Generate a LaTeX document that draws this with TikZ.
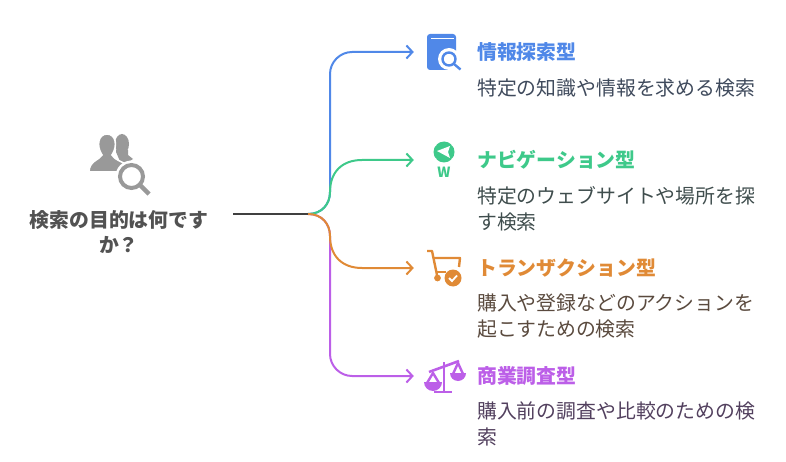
\documentclass[tikz,border=0pt]{standalone}
\usepackage{fontspec}
\setmainfont{Noto Sans CJK JP}
\usetikzlibrary{arrows.meta}
\definecolor{infoblue}{HTML}{5088E8}
\definecolor{navgreen}{HTML}{3EC98A}
\definecolor{buyorange}{HTML}{E08A36}
\definecolor{compurple}{HTML}{BC5FE8}
\definecolor{rootgray}{HTML}{999999}
\definecolor{infotext}{HTML}{3F4A5C}
\definecolor{navtext}{HTML}{3F4D4D}
\definecolor{buytext}{HTML}{5A4A3E}
\definecolor{comptext}{HTML}{52405E}
\begin{document}
\begin{tikzpicture}
[x=1pt, y=-1pt,
% STYLES
every node/.style={inner sep=0pt, font=\fontsize{17.6}{25.5}\selectfont},
% The head style is used to draw the type names
head/.style={anchor=west, font=\fontsize{19.85}{26}\selectfont\bfseries},
% The note style is used to draw the descriptions
note/.style={anchor=north west, align=left, font=\fontsize{19.85}{26}\selectfont},
branch/.style={line width=2pt, -{Straight Barb[length=6pt,width=13pt,line width=2pt]}},
icon/.style={minimum size=4pt}]

\useasboundingbox (0,0) rectangle (786,462);

% Draw root
\node [font=\fontsize{19.85}{25.5}\selectfont\bfseries, text=black!68, align=center] (ask) at (119,232) {検索の目的は何です\\か？};
\coordinate (hub) at (308,214);
\coordinate (start) at (233,214);

% Draw targets
\node [icon] (info) at (416,52) {};
\node [icon] (nav) at (416,160) {};
\node [icon] (buy) at (416,268) {};
\node [icon] (comp) at (416,376) {};

% Draw texts
\node [head, text=infoblue] (infohead) at (477,52) {情報探索型};
\node [note, text=infotext] (infonote) at (477,78.5) {特定の知識や情報を求める検索};
\node [head, text=navgreen] (navhead) at (477,160) {ナビゲーション型};
\node [note, text=navtext] (navnote) at (477,186) {特定のウェブサイトや場所を探\\す検索};
\node [head, text=buyorange] (buyhead) at (477,268) {トランザクション型};
\node [note, text=buytext] (buynote) at (477,294) {購入や登録などのアクションを\\起こすための検索};
\node [head, text=compurple] (comphead) at (477,376) {商業調査型};
\node [note, text=comptext] (compnote) at (477,402) {購入前の調査や比較のための検\\索};

% Draw connectors
\draw [branch, infoblue] (hub) .. controls (322,214) and (330,204) .. (330,192) -- (330,74) .. controls (330,62) and (340,52) .. (352,52) -- (info.west);
\draw [branch, compurple] (hub) .. controls (322,214) and (330,224) .. (330,236) -- (330,354) .. controls (330,366) and (340,376) .. (352,376) -- (comp.west);
\draw [branch, navgreen] (hub) .. controls (322,214) and (330,204) .. (330,192) .. controls (330,172) and (342,160) .. (362,160) -- (nav.west);
\draw [branch, buyorange] (hub) .. controls (322,214) and (330,224) .. (330,236) .. controls (330,256) and (342,268) .. (362,268) -- (buy.west);
\draw [line width=2pt, black!75] (start) -- (hub);

% Root icon
\fill [rootgray] (122,144) ellipse (7 and 10);
\fill [rootgray] (116,150) -- (128,150) -- (128,155) -- (133,159) -- (122,166) -- (116,152) -- cycle;
\filldraw [rootgray, draw=white, line width=1.6pt] (89,172) .. controls (89,161) and (99,160) .. (102,155) .. controls (96,146) and (98,134) .. (107,134) .. controls (116,134) and (118,146) .. (112,155) .. controls (115,160) and (121,161) .. (127,165) -- (120,172) -- cycle;
\fill [white] (131.5,176.5) circle (16);
\draw [rootgray, line width=4pt] (131.5,176.5) circle (11.5);
\draw [rootgray, line width=4.4pt] (140,185) -- (149,194);

% Book icon
\fill [infoblue, rounded corners=3pt] (427,34) rectangle (456,70);
\draw [white, line width=1.2pt] (431,38.5) -- (454,38.5);
\fill [white] (449,59) circle (11);
\fill [white] (450,66) rectangle (462,71);
\draw [infoblue, line width=2.4pt] (449,59) circle (6.5);
\draw [infoblue, line width=2.4pt] (454,64) -- (460.5,69.5);

% Compass icon
\fill [navgreen] (444,152) circle (10.5);
\fill [white] (437,151) -- (450,146) -- (448,152) -- (450,158) -- cycle;
\fill [white] (451,145) -- (456,141) -- (456,147) -- cycle;
\fill [white] (437,145) -- (432,141) -- (432,147) -- cycle;
\fill [white] (437,159) -- (432,163) -- (432,157) -- cycle;
\fill [white] (451,159) -- (456,163) -- (456,157) -- cycle;
\node [text=navgreen, font=\fontsize{14}{14}\selectfont\bfseries] (navw) at (444,172) {W};

% Cart icon
\draw [buyorange, line width=2.4pt, line join=round] (427,251) -- (432,251) -- (437,275);
\draw [buyorange, line width=2.4pt, line join=round] (433,258) -- (460,258) -- (459,267);
\draw [buyorange, line width=2.4pt] (436,272) -- (446,272);
\fill [buyorange] (437.5,278) circle (3.4);
\fill [buyorange] (453,278) circle (8.5);
\draw [white, line width=1.8pt] (449,278) -- (452,281) -- (457,275.5);

% Scale icon
\draw [compurple, line width=2.6pt] (444,362) -- (444,391);
\draw [compurple, line width=2.6pt] (434,392) -- (452,392);
\draw [compurple, line width=2.6pt] (429,372) -- (459,361);
\draw [compurple, line width=2.4pt, line join=round] (427,383) -- (433,373) -- (439,383);
\draw [compurple, line width=2.4pt, line join=round] (453,374) -- (458,363) -- (463,374);
\fill [compurple] (424,382) -- (442,382) arc (0:180:9) -- cycle;
\fill [compurple] (450,373) -- (466,373) arc (0:180:8) -- cycle;

\end{tikzpicture}
\end{document}
